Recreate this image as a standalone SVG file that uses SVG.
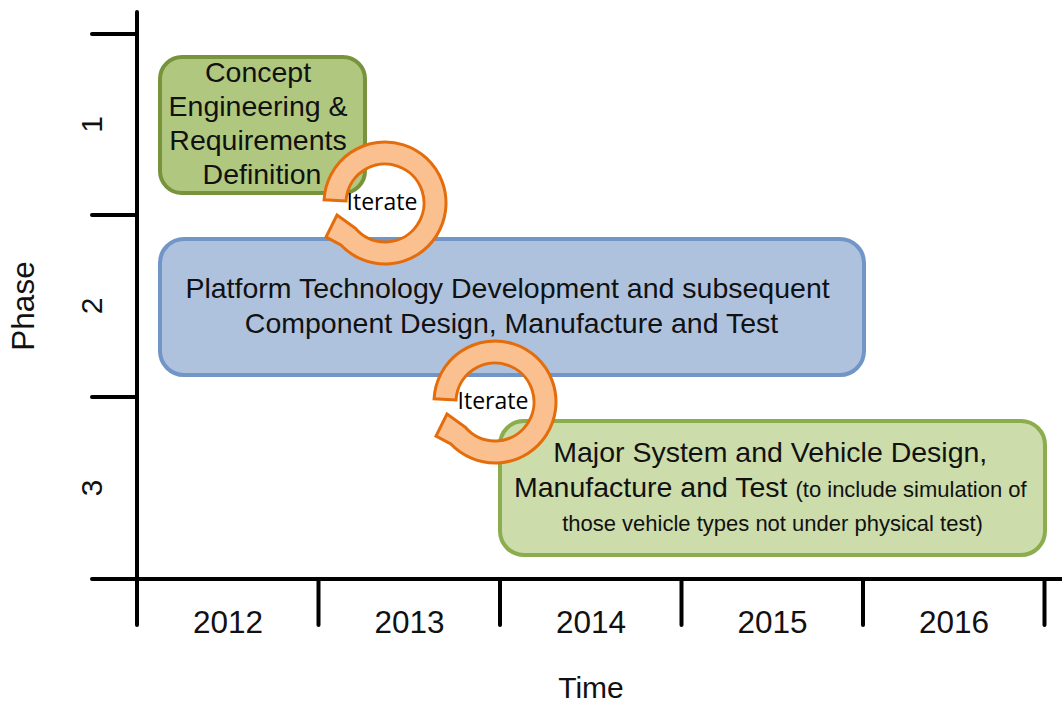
<svg xmlns="http://www.w3.org/2000/svg" xmlns:xlink="http://www.w3.org/1999/xlink" width="1062" height="704" viewBox="0 0 1062 704">
  <style>
    .axis { stroke: #000; stroke-width: 4; stroke-linecap: round; fill: none; }
    .lbl { font-family: "Liberation Sans", Arial, sans-serif; fill: #111; }
    .big { font-size: 28.5px; }
    .small { font-size: 22px; }
    .year { font-size: 31.5px; }
    .iter { font-family: "Open Sans", "Noto Sans", sans-serif; font-size: 23px; fill: #000; }
    .arrow { fill: #FAC090; stroke: #E46C0A; stroke-width: 3; stroke-linejoin: miter; }
  </style>
  <defs>
    <path id="circArrow" class="arrow" d="M324.08,199.81 A61,61 0 1 1 340.39,244.60 L326,237 L337,215 L355.12,228.07 A39,39 0 1 0 346.05,200.96 Z"/>
  </defs>
  <rect width="1062" height="704" fill="#fff"/>

  <g id="axes">
    <line class="axis" x1="137" y1="12" x2="137" y2="579"/>
    <line class="axis" x1="92" y1="579" x2="1064" y2="579"/>
    <line class="axis" x1="92" y1="34" x2="137" y2="34"/>
    <line class="axis" x1="92" y1="215" x2="137" y2="215"/>
    <line class="axis" x1="92" y1="397" x2="137" y2="397"/>
    <line class="axis" x1="137" y1="579" x2="137" y2="625"/>
    <line class="axis" x1="318.5" y1="579" x2="318.5" y2="625"/>
    <line class="axis" x1="500" y1="579" x2="500" y2="625"/>
    <line class="axis" x1="681.5" y1="579" x2="681.5" y2="625"/>
    <line class="axis" x1="863" y1="579" x2="863" y2="625"/>
    <line class="axis" x1="1044.5" y1="579" x2="1044.5" y2="625"/>
    <text class="lbl year" x="228" y="633" text-anchor="middle">2012</text>
    <text class="lbl year" x="409.5" y="633" text-anchor="middle">2013</text>
    <text class="lbl year" x="591" y="633" text-anchor="middle">2014</text>
    <text class="lbl year" x="772.5" y="633" text-anchor="middle">2015</text>
    <text class="lbl year" x="954" y="633" text-anchor="middle">2016</text>
    <text class="lbl" font-size="30" x="591" y="698" text-anchor="middle">Time</text>
    <text class="lbl year" x="34" y="306" text-anchor="middle" transform="rotate(-90 34 306)">Phase</text>
    <text class="lbl" font-size="30" x="102" y="124.5" text-anchor="middle" transform="rotate(-90 102 124.5)">1</text>
    <text class="lbl" font-size="30" x="102" y="306" text-anchor="middle" transform="rotate(-90 102 306)">2</text>
    <text class="lbl" font-size="30" x="102" y="488" text-anchor="middle" transform="rotate(-90 102 488)">3</text>
  </g>

  <g id="phase1">
    <rect x="160" y="57" width="205" height="136" rx="22" fill="#B0C77F" stroke="#77933C" stroke-width="4"/>
    <text class="lbl big" text-anchor="middle">
      <tspan x="262" y="82">Concept</tspan>
      <tspan x="262" y="116">Engineering &amp;</tspan>
      <tspan x="262" y="150">Requirements</tspan>
      <tspan x="262" y="184">Definition</tspan>
    </text>
  </g>

  <g id="phase2">
    <rect x="160" y="239" width="704" height="136" rx="24" fill="#AEC2DD" stroke="#7195C6" stroke-width="4"/>
    <text class="lbl big" text-anchor="middle">
      <tspan x="511.5" y="298">Platform Technology Development and subsequent</tspan>
      <tspan x="511.5" y="333">Component Design, Manufacture and Test</tspan>
    </text>
  </g>

  <g id="phase3">
    <rect x="500" y="421" width="545" height="134" rx="24" fill="#CCDCAB" stroke="#8CAD4E" stroke-width="4"/>
    <text class="lbl" text-anchor="middle">
      <tspan class="big" x="772.5" y="462">Major System and Vehicle Design,</tspan>
      <tspan x="772.5" y="497"><tspan class="big">Manufacture and Test </tspan><tspan class="small">(to include simulation of</tspan></tspan>
      <tspan class="small" x="772.5" y="531">those vehicle types not under physical test)</tspan>
    </text>
  </g>

  <g id="connectors">
    <g id="iterate1">
      <use xlink:href="#circArrow" href="#circArrow"/>
      <text class="iter" x="382" y="210" text-anchor="middle">Iterate</text>
    </g>
    <g id="iterate2">
      <use xlink:href="#circArrow" href="#circArrow" transform="translate(110 199)"/>
      <text class="iter" x="493" y="409" text-anchor="middle">Iterate</text>
    </g>
  </g>
</svg>
